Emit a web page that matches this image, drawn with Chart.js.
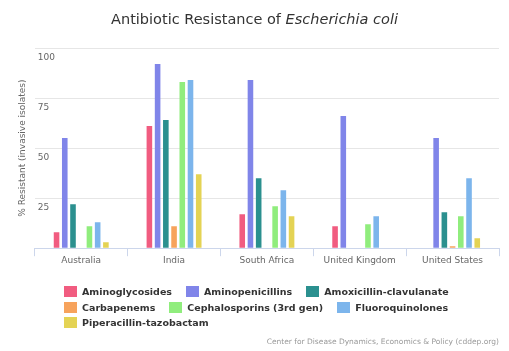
<!DOCTYPE html>
<html>
<head>
<meta charset="utf-8">
<script src="https://cdn.jsdelivr.net/npm/chart.js@4"></script>
<style>
html,body{margin:0;padding:0;background:#fff;}
#wrap{position:relative;width:509px;height:351px;font-family:"DejaVu Sans",sans-serif;}
#wrap canvas{position:absolute;left:0;top:0;}
#title{position:absolute;top:11px;left:0;width:509px;text-align:center;font-size:14.5px;color:#333;white-space:nowrap;}
#legend{position:absolute;left:64px;top:284px;width:400px;display:flex;flex-wrap:wrap;font-size:9.5px;font-weight:bold;color:#333;}
#legend .item{display:flex;align-items:center;margin-right:14px;height:15.5px;white-space:nowrap;}
#legend .box{width:13px;height:11px;margin-right:5px;}
#credits{position:absolute;right:10px;top:337px;font-size:7.5px;color:#999;white-space:nowrap;}
</style>
</head>
<body>
<div id="wrap">
  <canvas id="chart" width="509" height="351"></canvas>
  <div id="title">Antibiotic Resistance of <i>Escherichia coli</i></div>
  <div id="legend"></div>
  <div id="credits">Center for Disease Dynamics, Economics &amp; Policy (cddep.org)</div>
</div>
<script>
const countries = ['Australia', 'India', 'South Africa', 'United Kingdom', 'United States'];
const aminoglycosides  = [8, 61, 17, 11, null];
const aminopenicillins = [55, 92, 84, 66, 55];
const amoxClav         = [22, 64, 35, null, 18];
const carbapenems      = [null, 11, null, null, 1];
const cephalosporins   = [11, 83, 21, 12, 16];
const fluoroquinolones = [13, 84, 29, 16, 35];
const pipTaz           = [3, 37, 16, null, 5];
const seriesNames = ['Aminoglycosides', 'Aminopenicillins', 'Amoxicillin-clavulanate', 'Carbapenems',
  'Cephalosporins (3rd gen)', 'Fluoroquinolones', 'Piperacillin-tazobactam'];
const seriesValues = [aminoglycosides, aminopenicillins, amoxClav, carbapenems, cephalosporins, fluoroquinolones, pipTaz];
const seriesColors = ['#f15c80', '#8085e9', '#2b908f', '#f7a35c', '#90ed7d', '#7cb5ec', '#e4d354'];
const yMax = 100, yStep = 25;

function buildLegend(){
  const lg = document.getElementById('legend');
  seriesNames.forEach((n, i) => {
    const it = document.createElement('div'); it.className = 'item';
    it.innerHTML = `<span class="box" style="background:${seriesColors[i]}"></span><span>${n}</span>`;
    lg.appendChild(it);
  });
}

function draw(){
  const ctx = document.getElementById('chart');
  // eslint-disable-next-line no-undef
  new Chart(ctx, {
    type: 'bar',
    data: {
      labels: countries,
      datasets: seriesNames.map((n, i) => ({
        label: n, data: seriesValues[i], backgroundColor: seriesColors[i],
        borderWidth: 0, categoryPercentage: 0.62, barPercentage: 0.68
      }))
    },
    options: {
      responsive: false, animation: false,
      layout: { padding: { left: 12, right: 10, top: 48, bottom: 86 } },
      plugins: { legend: { display: false }, tooltip: { enabled: false } },
      scales: {
        x: {
          grid: { offset: true, drawOnChartArea: false, tickLength: 8, color: '#ccd6eb' },
          border: { color: '#ccd6eb' },
          ticks: { color: '#666', font: { family: 'DejaVu Sans', size: 9 }, padding: -1, maxRotation: 0 }
        },
        y: {
          min: 0, max: yMax,
          grid: { color: '#e6e6e6', drawTicks: false },
          border: { display: false },
          title: { display: true, text: '% Resistant (invasive isolates)', color: '#666',
                   font: { family: 'DejaVu Sans', size: 9 }, padding: { top: 5, bottom: 1 } },
          ticks: { stepSize: yStep, mirror: true, padding: 3, labelOffset: 10, color: '#666',
                   font: { family: 'DejaVu Sans', size: 9 },
                   callback: v => v === 0 ? '' : v }
        }
      }
    }
  });
}

buildLegend();
draw();
</script>
</body>
</html>
